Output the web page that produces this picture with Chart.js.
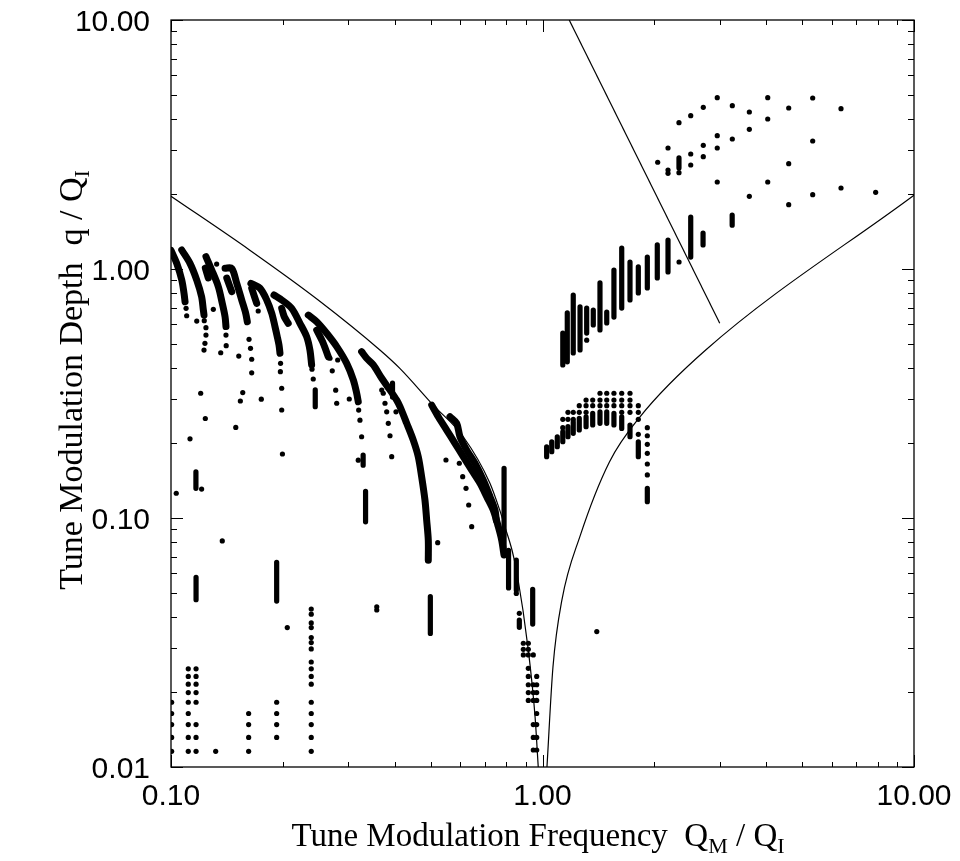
<!DOCTYPE html>
<html>
<head>
<meta charset="utf-8">
<script src="https://cdn.jsdelivr.net/npm/chart.js@4.4.1/dist/chart.umd.min.js"></script>
<style>
  html, body { margin: 0; padding: 0; background: #fff; }
  #wrap { width: 960px; height: 861px; position: relative; }
</style>
</head>
<body>
<div id="wrap"><canvas id="c"></canvas></div>
<script>
(function () {

  const X_TICKS = [0.1, 1, 10];
  const Y_TICKS = [0.01, 0.1, 1, 10];
  const MINOR_STEPS = [2, 3, 4, 5, 6, 7, 8, 9];

  // stability boundaries (solid lines)
  const lowCurve = [[0.1, 1.96], [0.163, 1.19], [0.249, 0.751], [0.365, 0.473], [0.413, 0.399],
    [0.508, 0.284], [0.612, 0.212], [0.722, 0.138], [0.768, 0.107], [0.792, 0.0923],
    [0.828, 0.0742], [0.854, 0.060], [0.916, 0.0294], [0.955, 0.0159], [0.974, 0.01]];
  const highCurve = [[1.028, 0.01], [1.067, 0.0252], [1.128, 0.0469], [1.262, 0.0846],
    [1.514, 0.168], [1.83, 0.255], [2.75, 0.473], [10, 1.98]];
  const steepLine = [[1.18, 10], [3.0, 0.605]];

  // dense tracks of lost particles
  const arcA = [[0.100, 1.187], [0.1036, 1.054], [0.1069, 0.903], [0.1084, 0.799], [0.1091, 0.739]];
  const arcB = [[0.1069, 1.192], [0.1125, 1.054], [0.1173, 0.903], [0.1209, 0.774], [0.1222, 0.684], [0.1227, 0.653]];
  const arcC = [[0.1242, 1.121], [0.1287, 0.991], [0.1341, 0.849], [0.1374, 0.728], [0.1398, 0.643], [0.1406, 0.587]];
  const arcC2 = [[0.1237, 1.009], [0.1260, 0.920]];
  const arcD = [[0.1398, 1.006], [0.1457, 1.006], [0.1503, 0.876], [0.1550, 0.751], [0.1589, 0.664], [0.1605, 0.614]];
  const arcD2 = [[0.1413, 0.920], [0.1457, 0.811]];
  const arcE = [[0.1641, 0.876], [0.1736, 0.837], [0.1810, 0.751], [0.1867, 0.664], [0.1905, 0.587],
    [0.1932, 0.535], [0.1953, 0.495], [0.1965, 0.459]];
  const arcE2 = [[0.1649, 0.837], [0.1701, 0.728]];
  const arcF = [[0.1893, 0.786], [0.1986, 0.751], [0.2113, 0.695], [0.2224, 0.605], [0.2318, 0.535],
    [0.2366, 0.4725], [0.2391, 0.412]];
  const arcF2 = [[0.1986, 0.695], [0.2018, 0.643], [0.2068, 0.605]];
  const arcG = [[0.2342, 0.653], [0.2467, 0.614], [0.2625, 0.552], [0.2793, 0.488], [0.2971, 0.418],
    [0.3097, 0.358], [0.3161, 0.317], [0.3192, 0.293]];
  const arcG2 = [[0.2467, 0.5686], [0.2570, 0.503], [0.2651, 0.444]];
  const arcH = [[0.3259, 0.4655], [0.3362, 0.438], [0.3504, 0.412], [0.3692, 0.364], [0.3886, 0.3263],
    [0.4050, 0.2975], [0.4134, 0.280], [0.4310, 0.240], [0.4489, 0.2054], [0.4630, 0.1763],
    [0.4728, 0.1465], [0.4826, 0.1181], [0.4878, 0.098], [0.4927, 0.0814], [0.4927, 0.0677]];
  const arcI = [[0.5033, 0.284], [0.5242, 0.255], [0.5521, 0.2254], [0.5813, 0.1995], [0.6119, 0.1763],
    [0.6448, 0.1556], [0.6790, 0.1378], [0.7077, 0.1218], [0.7373, 0.1075], [0.7603, 0.0923],
    [0.7767, 0.0814], [0.7878, 0.071]];
  const arcI2 = [[0.5636, 0.255], [0.5875, 0.240], [0.5996, 0.212], [0.6252, 0.1873], [0.6580, 0.1659],
    [0.6929, 0.1419], [0.7224, 0.1218], [0.7450, 0.1075], [0.7510, 0.098]];
  const arcs = [arcA, arcB, arcC, arcC2, arcD, arcD2, arcE, arcE2, arcF, arcF2, arcG, arcG2, arcH, arcI, arcI2];

  // vertical runs of points: x, top, bottom
  const runX   = [0.1168, 0.1925, 0.1167, 0.2445, 0.329, 0.334, 0.3947, 0.499, 0.788, 0.8103, 0.8502, 0.8662, 0.941,
    1.026, 1.059, 1.096, 1.134, 1.171, 1.210, 1.256, 1.310, 1.365, 1.428, 1.489, 1.557, 1.634, 1.720, 1.811, 1.915,
    1.134, 1.166, 1.210, 1.262, 1.315, 1.370, 1.428, 1.489, 1.557, 1.634, 1.720, 1.811, 1.915, 2.037, 2.177,
    2.506, 2.705, 3.240, 2.330];
  const runTop = [0.0578, 0.0664, 0.1534, 0.327, 0.179, 0.128, 0.348, 0.0483, 0.1584, 0.0742, 0.0677, 0.0389, 0.0517,
    0.1933, 0.2024, 0.212, 0.222, 0.2326, 0.2435, 0.2514, 0.255, 0.2633, 0.267, 0.267, 0.2633, 0.255, 0.2363, 0.2024, 0.1316,
    0.553, 0.666, 0.786, 0.704, 0.697, 0.684, 0.879, 0.672, 0.991, 1.214, 1.067, 1.019, 1.117, 1.249, 1.307,
    1.617, 1.395, 1.647, 2.792];
  const runBot = [0.0470, 0.0464, 0.1316, 0.280, 0.163, 0.0965, 0.306, 0.0344, 0.071, 0.0524, 0.0513, 0.0364, 0.0375,
    0.1763, 0.1846, 0.1933, 0.2024, 0.212, 0.2189, 0.2257, 0.2326, 0.2363, 0.240, 0.240, 0.2363, 0.229, 0.212, 0.1763, 0.1163,
    0.412, 0.424, 0.460, 0.473, 0.553, 0.596, 0.569, 0.607, 0.641, 0.697, 0.751, 0.801, 0.839, 0.920, 0.973,
    1.117, 1.249, 1.50, 2.544];

  // columns of points at the smallest depths
  const gridX = [0.1004, 0.1113, 0.1168, 0.1319, 0.1618, 0.1925, 0.2385, 0.888, 0.9158, 0.9445, 0.9647];
  const gridY = [
    [0.0182, 0.0164, 0.0148, 0.01315, 0.01156],
    [0.0248, 0.0231, 0.0215, 0.0199, 0.0182, 0.0164, 0.0148, 0.01315, 0.01156],
    [0.0248, 0.0231, 0.0215, 0.0199, 0.0182, 0.0148, 0.01315, 0.01156],
    [0.01156],
    [0.0164, 0.0148, 0.01315, 0.01156],
    [0.0182, 0.0164, 0.0148, 0.01315],
    [0.0431, 0.0411, 0.0379, 0.0363, 0.0331, 0.0316, 0.0298, 0.0264, 0.0248, 0.0231, 0.0215, 0.0182, 0.0164, 0.0148, 0.01315, 0.01156],
    [0.0314, 0.0297, 0.0282],
    [0.0314, 0.0297, 0.0282, 0.0249, 0.0231, 0.0214, 0.0199, 0.0185],
    [0.0282, 0.0214, 0.0199, 0.0185, 0.0148, 0.01315, 0.0117],
    [0.0231, 0.0214, 0.0199, 0.0185, 0.0164, 0.0148, 0.01315, 0.0117]
  ];

  // single points
  const dotsLeft = [[0.1098, 0.695], [0.1102, 0.649], [0.1229, 0.620], [0.1242, 0.581], [0.1242, 0.543],
    [0.1234, 0.503], [0.1227, 0.4725], [0.1173, 0.618], [0.1300, 0.689], [0.1406, 0.543], [0.1408, 0.492],
    [0.1327, 1.047], [0.1622, 0.522], [0.1637, 0.480], [0.1649, 0.434], [0.1649, 0.383],
    [0.1522, 0.447], [0.1361, 0.461], [0.1494, 0.231], [0.1560, 0.319], [0.1537, 0.295], [0.1750, 0.300],
    [0.1202, 0.317], [0.1237, 0.251], [0.1125, 0.208], [0.1033, 0.1257], [0.1209, 0.1307],
    [0.1717, 0.678], [0.1972, 0.418], [0.1970, 0.387], [0.1986, 0.332], [0.1986, 0.2715], [0.1995, 0.1807],
    [0.2396, 0.396], [0.2415, 0.3616], [0.2679, 0.438], [0.2810, 0.431], [0.2717, 0.390], [0.2775, 0.326],
    [0.2793, 0.289], [0.3019, 0.3005], [0.3200, 0.2712], [0.3226, 0.2472], [0.3259, 0.212], [0.3192, 0.1707],
    [0.3692, 0.3263], [0.3767, 0.289], [0.3807, 0.267], [0.3845, 0.240], [0.3886, 0.214], [0.3927, 0.1763],
    [0.4033, 0.267], [0.3727, 0.317], [0.5223, 0.0796], [0.1374, 0.0809], [0.2056, 0.0363],
    [0.358, 0.0440], [0.358, 0.0427]];
  const dotsMid = [[0.5497, 0.171], [0.5971, 0.1659], [0.6097, 0.1465], [0.6225, 0.1316], [0.6329, 0.1128],
    [0.6448, 0.0923], [0.8502, 0.0498], [0.8662, 0.0414], [1.40, 0.035]];
  const dotsRight = [
    [1.428, 0.317], [1.489, 0.317], [1.557, 0.317], [1.634, 0.317], [1.720, 0.317],
    [1.310, 0.2975], [1.365, 0.2975], [1.428, 0.2975], [1.489, 0.2975], [1.557, 0.2975], [1.634, 0.2975], [1.720, 0.2975],
    [1.256, 0.2825], [1.310, 0.2825], [1.365, 0.2825], [1.428, 0.2825], [1.489, 0.2825], [1.557, 0.2825],
    [1.634, 0.2825], [1.720, 0.2825], [1.811, 0.2825],
    [1.171, 0.2658], [1.210, 0.2658], [1.256, 0.2658], [1.310, 0.2658], [1.634, 0.2658], [1.720, 0.2658], [1.811, 0.2658],
    [1.134, 0.249], [1.171, 0.249], [1.210, 0.249], [1.811, 0.249], [1.134, 0.2305], [1.811, 0.2168],
    [1.915, 0.2305], [1.915, 0.214], [1.915, 0.1977], [1.915, 0.1819], [1.915, 0.1648], [1.915, 0.1489],
    [1.315, 0.518]];
  const dotsTop = [[2.042, 2.683], [2.177, 3.062], [2.177, 2.498], [2.177, 2.423], [2.330, 3.869], [2.330, 2.436],
    [2.506, 4.128], [2.506, 2.896], [2.506, 2.616], [2.709, 4.461], [2.709, 3.139], [2.709, 2.825],
    [2.954, 4.875], [2.954, 3.430], [2.954, 3.062], [2.954, 2.236], [3.243, 4.528], [3.243, 3.327],
    [3.604, 4.271], [3.604, 3.639], [3.604, 1.959], [4.039, 4.875], [4.039, 4.004], [4.039, 2.236],
    [4.600, 4.432], [4.600, 2.648], [4.600, 1.813], [5.337, 4.861], [5.337, 3.267], [5.337, 1.988],
    [6.361, 4.404], [6.361, 2.115], [7.885, 2.032], [2.331, 1.067]];

  const pts = arr => arr.map(p => ({ x: p[0], y: p[1] }));
  const INK = '#000';

  const datasets = [];
  const lineStyle = { showLine: true, pointRadius: 0, borderColor: INK, backgroundColor: INK, fill: false };
  datasets.push(Object.assign({ data: pts(lowCurve), borderWidth: 1.2, cubicInterpolationMode: 'monotone' }, lineStyle));
  datasets.push(Object.assign({ data: pts(highCurve), borderWidth: 1.2, cubicInterpolationMode: 'monotone' }, lineStyle));
  datasets.push(Object.assign({ data: pts(steepLine), borderWidth: 1.2 }, lineStyle));

  const thick = { borderWidth: 7, borderCapStyle: 'round', borderJoinStyle: 'round', tension: 0.3 };
  arcs.forEach(a => datasets.push(Object.assign({ data: pts(a) }, lineStyle, thick)));
  runX.forEach((x, i) => datasets.push(Object.assign({
    data: [{ x, y: runTop[i] }, { x, y: runBot[i] }]
  }, lineStyle, thick, { borderWidth: 5.2, tension: 0 })));

  const gridPts = [];
  gridX.forEach((x, i) => gridY[i].forEach(y => gridPts.push({ x, y })));
  const dotStyle = { pointRadius: 2.6, pointBorderWidth: 0, backgroundColor: INK, borderColor: INK, showLine: false };
  [gridPts, pts(dotsLeft), pts(dotsMid), pts(dotsRight), pts(dotsTop)].forEach(d =>
    datasets.push(Object.assign({ data: d }, dotStyle)));

  function tickValues(decades) {
    const out = [];
    decades.forEach((d, i) => {
      out.push([d, true]);
      if (i < decades.length - 1) MINOR_STEPS.forEach(m => out.push([d * m, false]));
    });
    return out;
  }

  function drawRich(ctx, parts, size) {
    const subSize = Math.round(size * 0.66);
    let w = 0;
    parts.forEach(([t, sub]) => {
      ctx.font = (sub ? subSize : size) + 'px "Liberation Serif"';
      w += ctx.measureText(t).width;
    });
    let cx = -w / 2;
    parts.forEach(([t, sub]) => {
      ctx.font = (sub ? subSize : size) + 'px "Liberation Serif"';
      ctx.fillText(t, cx, sub ? 7 : 0);
      cx += ctx.measureText(t).width;
    });
  }

  const framePlugin = {
    id: 'frame',
    afterDraw(chart) {
      const { ctx, chartArea: a, scales: { x, y } } = chart;
      ctx.save();
      ctx.strokeStyle = INK;
      ctx.lineWidth = 1.3;
      ctx.strokeRect(a.left, a.top, a.right - a.left, a.bottom - a.top);
      ctx.lineWidth = 1;
      ctx.beginPath();
      tickValues(X_TICKS).forEach(([v, major]) => {
        const px = Math.round(x.getPixelForValue(v)) + 0.5;
        const len = major ? 12 : 5;
        ctx.moveTo(px, a.bottom); ctx.lineTo(px, a.bottom - len);
        ctx.moveTo(px, a.top); ctx.lineTo(px, a.top + len);
      });
      tickValues(Y_TICKS).forEach(([v, major]) => {
        const py = Math.round(y.getPixelForValue(v)) + 0.5;
        const len = major ? 12 : 6;
        ctx.moveTo(a.left, py); ctx.lineTo(a.left + len, py);
        ctx.moveTo(a.right, py); ctx.lineTo(a.right - len, py);
      });
      ctx.stroke();

      // decade labels
      ctx.fillStyle = INK;
      ctx.textBaseline = 'alphabetic';
      ctx.font = '30px "Liberation Sans", Arial, sans-serif';
      ctx.textAlign = 'center';
      X_TICKS.forEach(v => ctx.fillText(v.toFixed(2), x.getPixelForValue(v), a.bottom + 38));
      ctx.textAlign = 'right';
      Y_TICKS.forEach(v => ctx.fillText(v.toFixed(2), a.left - 21, y.getPixelForValue(v) + 11));

      // axis titles
      ctx.textAlign = 'left';
      ctx.save();
      ctx.translate(538, 846);
      drawRich(ctx, [['Tune Modulation Frequency  Q', false], ['M', true], [' / Q', false], ['I', true]], 33);
      ctx.restore();
      ctx.save();
      ctx.translate(82, 380);
      ctx.rotate(-Math.PI / 2);
      drawRich(ctx, [['Tune Modulation Depth  q / Q', false], ['I', true]], 34);
      ctx.restore();
      ctx.restore();
    }
  };

  new Chart(document.getElementById('c'), {
    type: 'scatter',
    data: { datasets },
    options: {
      responsive: true,
      maintainAspectRatio: false,
      animation: false,
      events: [],
      layout: { padding: { top: 20, right: 46, left: 0, bottom: 0 } },
      plugins: { legend: { display: false }, tooltip: { enabled: false } },
      scales: {
        x: {
          type: 'logarithmic', min: 0.1, max: 10, position: 'bottom',
          grid: { display: false, drawTicks: false }, border: { display: false },
          ticks: { display: false },
          afterFit: s => { s.height = 94; }
        },
        y: {
          type: 'logarithmic', min: 0.01, max: 10, position: 'left',
          grid: { display: false, drawTicks: false }, border: { display: false },
          ticks: { display: false },
          afterFit: s => { s.width = 171; }
        }
      }
    },
    plugins: [framePlugin]
  });
})();
</script>
</body>
</html>
